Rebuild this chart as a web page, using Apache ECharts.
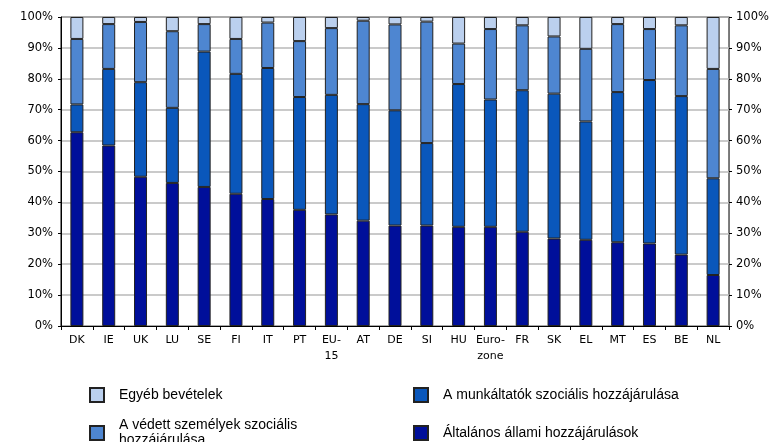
<!DOCTYPE html>
<html><head><meta charset="utf-8">
<script src="https://cdn.jsdelivr.net/npm/echarts@6/dist/echarts.min.js"></script>
<style>html,body{margin:0;padding:0;background:#fff}#c{width:772px;height:442px}</style>
</head><body><div id="c"></div>
<script>
const categories = ['DK','IE','UK','LU','SE','FI','IT','PT','EU-\n15','AT','DE','SI','HU','Euro-\nzone','FR','SK','EL','MT','ES','BE','NL'];
const generalGov = [62.7,58.4,48.3,46.3,45.0,42.8,41.1,37.6,36.1,34.1,32.5,32.5,32.1,32.1,30.5,28.3,27.9,27.1,26.7,23.1,16.5];
const employers  = [9.0,24.8,30.6,24.3,43.8,38.8,42.4,36.5,38.7,37.7,37.3,26.7,46.2,41.2,45.8,46.9,38.3,48.6,52.9,51.3,31.3];
const protectedP = [21.2,14.5,19.5,24.8,8.9,11.3,14.7,18.1,21.6,27.0,27.8,39.3,13.1,22.8,21.0,18.5,23.5,22.0,16.5,22.9,35.4];
const other      = [7.1,2.3,1.6,4.6,2.3,7.1,1.8,7.8,3.6,1.2,2.4,1.5,8.6,3.9,2.7,6.3,10.3,2.3,3.9,2.7,16.8];
const seriesNames = ['Általános állami hozzájárulások','A munkáltatók szociális hozzájárulása','A védett személyek szociális hozzájárulása','Egyéb bevételek'];
const yTicks = [0,10,20,30,40,50,60,70,80,90,100];

const colors = ['#000F9A','#0A57BB','#4E86D1','#BBD0EE'];
const dataSets = [generalGov, employers, protectedP, other];
const chart = echarts.init(document.getElementById('c'));
const yAx = (pos) => ({
  type:'value', min:0, max:100, interval:10, position:pos,
  axisLine:{show:true, lineStyle:{color: pos==='left' ? '#000' : '#777', width:1}},
  axisTick:{show:true, length:3, lineStyle:{color:'#000'}},
  axisLabel:{formatter:'{value}%', color:'#000', fontSize:11.5, fontFamily:'DejaVu Sans', margin: pos==='left'?8:7},
  splitLine:{show: pos==='left', lineStyle:{color:'#b8b8b8', width:1.5}}
});
const legendTxt = {color:'#000', fontSize:14, fontFamily:'Liberation Sans', lineHeight:15, padding:[0,0,0,10]};
const mkLegend = (name, left, top) => ({
  data:[name], left:left, top:top, orient:'vertical', itemWidth:14, itemHeight:14,
  icon:'rect', textStyle:legendTxt, selectedMode:false,
  formatter: n => n === seriesNames[2] ? 'A védett személyek szociális\nhozzájárulása' : n
});
chart.setOption({
  animation:false,
  grid:{left:61, right:43, top:17, bottom:116, show:true, borderColor:'#000', borderWidth:1},
  xAxis:{type:'category', data:categories,
    axisLine:{lineStyle:{color:'#000'}},
    axisTick:{show:true, length:4, lineStyle:{color:'#000'}},
    axisLabel:{interval:0, color:'#000', fontSize:11, fontFamily:'DejaVu Sans', lineHeight:16, margin:6}},
  yAxis:[yAx('left'), yAx('right')],
  legend:[
    mkLegend(seriesNames[3], 84, 382),
    mkLegend(seriesNames[2], 84, 413),
    mkLegend(seriesNames[1], 408, 382),
    mkLegend(seriesNames[0], 408, 420)
  ],
  series: dataSets.map((d,i)=>({
    name:seriesNames[i], type:'bar', stack:'a', data:d, barWidth:13,
    itemStyle:{color:colors[i], borderColor:'#222', borderWidth:1}
  }))
});
</script></body></html>
